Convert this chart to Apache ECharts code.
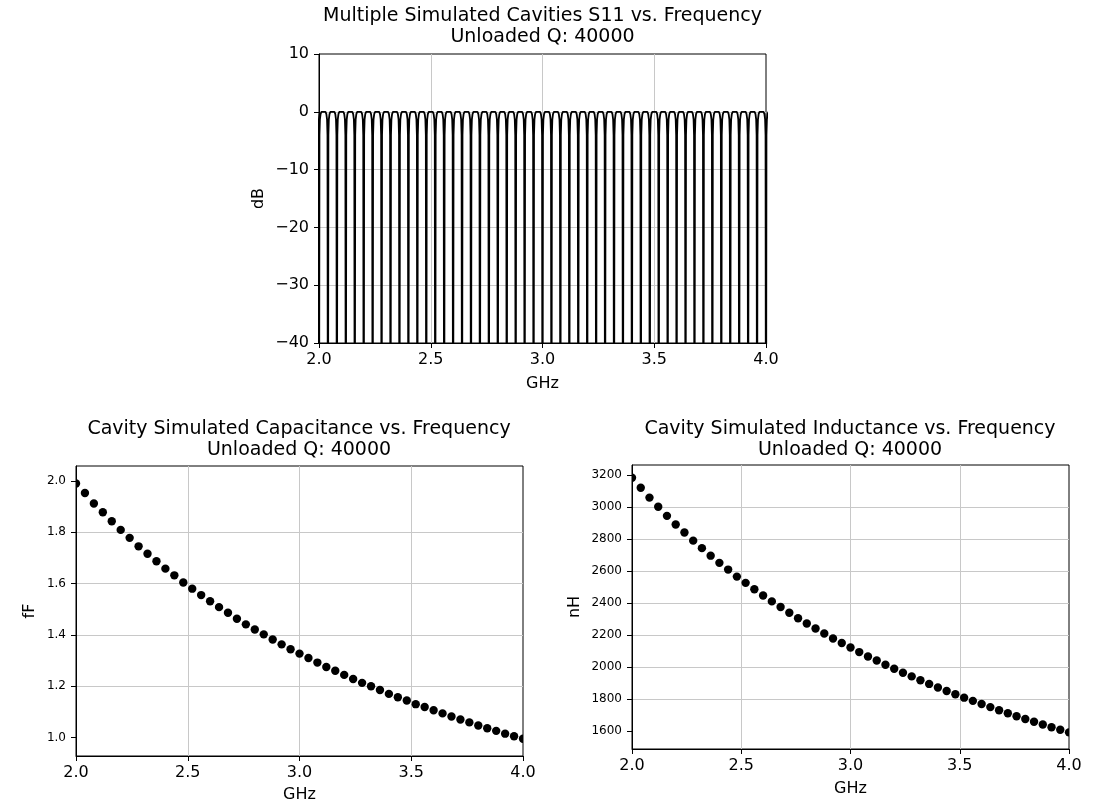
<!DOCTYPE html>
<html>
<head>
<meta charset="utf-8">
<script src="https://cdn.jsdelivr.net/npm/echarts@6/dist/echarts.min.js"></script>
<style>
html,body{margin:0;padding:0;background:#fff;}
#chart{width:1097px;height:807px;}
</style>
</head>
<body>
<div id="chart"></div>
<script>
// ---- data ----
const freqGHz = [2.00, 2.04, 2.08, 2.12, 2.16, 2.20, 2.24, 2.28, 2.32, 2.36,
                 2.40, 2.44, 2.48, 2.52, 2.56, 2.60, 2.64, 2.68, 2.72, 2.76,
                 2.80, 2.84, 2.88, 2.92, 2.96, 3.00, 3.04, 3.08, 3.12, 3.16,
                 3.20, 3.24, 3.28, 3.32, 3.36, 3.40, 3.44, 3.48, 3.52, 3.56,
                 3.60, 3.64, 3.68, 3.72, 3.76, 3.80, 3.84, 3.88, 3.92, 3.96, 4.00];
const capacitance_fF = [1.990, 1.953, 1.912, 1.878, 1.843, 1.809, 1.778, 1.745, 1.716, 1.687,
                        1.658, 1.632, 1.604, 1.580, 1.555, 1.531, 1.508, 1.486, 1.463, 1.441,
                        1.421, 1.402, 1.382, 1.363, 1.344, 1.327, 1.310, 1.292, 1.275, 1.260,
                        1.244, 1.228, 1.213, 1.200, 1.185, 1.170, 1.157, 1.144, 1.130, 1.119,
                        1.106, 1.094, 1.082, 1.070, 1.059, 1.047, 1.036, 1.026, 1.015, 1.005, 0.995];
const inductance_nH = [3182, 3120, 3058, 3001, 2944, 2890, 2840, 2789, 2742, 2695,
                       2650, 2608, 2564, 2525, 2485, 2446, 2409, 2374, 2338, 2304,
                       2271, 2240, 2208, 2177, 2149, 2121, 2092, 2064, 2039, 2013,
                       1988, 1963, 1940, 1916, 1893, 1871, 1849, 1828, 1807, 1787,
                       1767, 1748, 1728, 1710, 1691, 1674, 1656, 1639, 1622, 1606, 1590];
// shape of one S11 resonance dip (offset from resonance in GHz, level in dB)
const dipOffsetGHz = [-0.011, -0.007, -0.004, -0.002, 0, 0.002, 0.004, 0.007, 0.011];
const dipLevelDb   = [0, -0.4, -1.3, -4, -80, -4, -1.3, -0.4, 0];

const xTicks = [2.0, 2.5, 3.0, 3.5, 4.0];
const s11Ticks = [-40, -30, -20, -10, 0, 10];
const capTicks = [1.0, 1.2, 1.4, 1.6, 1.8, 2.0];
const indTicks = [1600, 1800, 2000, 2200, 2400, 2600, 2800, 3000, 3200];

const title1 = 'Multiple Simulated Cavities S11 vs. Frequency';
const title2 = 'Cavity Simulated Capacitance vs. Frequency';
const title3 = 'Cavity Simulated Inductance vs. Frequency';
const subTitle = 'Unloaded Q: 40000';

// ---- build ----
const s11Data = [];
freqGHz.forEach(f => {
  dipOffsetGHz.forEach((o, k) => s11Data.push([f + o, dipLevelDb[k]]));
});

const FONT = 'DejaVu Sans';
const gridLine = {show: true, showMinLine: false, showMaxLine: false, lineStyle: {color: '#c8c8c8', width: 1}};
const axLine = {show: true, onZero: false, lineStyle: {color: '#000', width: 1}};
const axTick = {show: true, inside: false, length: 5, lineStyle: {color: '#000', width: 1}};

function xAxis(gridIndex, nameGap) {
  return {
    type: 'value', gridIndex, min: 2, max: 4, interval: 0.5,
    name: 'GHz', nameLocation: 'middle', nameGap,
    nameTextStyle: {fontFamily: FONT, fontSize: 16, color: '#000'},
    axisLine: axLine, axisTick: axTick, splitLine: gridLine,
    axisLabel: {fontFamily: FONT, fontSize: 16, color: '#000', margin: 9,
                formatter: v => v.toFixed(1)}
  };
}

const chart = echarts.init(document.getElementById('chart'), null, {renderer: 'canvas'});
const titleStyle = {fontFamily: FONT, fontSize: 19, fontWeight: 'normal', color: '#000', lineHeight: 21};

chart.setOption({
  animation: false,
  backgroundColor: '#fff',
  title: [
    {text: title1 + '\n' + subTitle, left: 542.5, top: 6, textAlign: 'center', padding: 0, textStyle: titleStyle},
    {text: title2 + '\n' + subTitle, left: 299, top: 419, textAlign: 'center', padding: 0, textStyle: titleStyle},
    {text: title3 + '\n' + subTitle, left: 850, top: 419, textAlign: 'center', padding: 0, textStyle: titleStyle}
  ],
  grid: [
    {left: 319, top: 54, width: 447, height: 289, show: true, borderColor: '#000', borderWidth: 1, containLabel: false},
    {left: 76, top: 466, width: 447, height: 290, show: true, borderColor: '#000', borderWidth: 1, containLabel: false},
    {left: 632, top: 465, width: 437, height: 284, show: true, borderColor: '#000', borderWidth: 1, containLabel: false}
  ],
  xAxis: [xAxis(0, 33), xAxis(1, 31), xAxis(2, 32)],
  yAxis: [
    {
      type: 'value', gridIndex: 0, min: -40, max: 10, interval: 10,
      name: 'dB', nameLocation: 'middle', nameGap: 52,
      nameTextStyle: {fontFamily: FONT, fontSize: 16, color: '#000'},
      axisLine: axLine, axisTick: axTick, splitLine: gridLine,
      axisLabel: {fontFamily: FONT, fontSize: 16, color: '#000', margin: 10,
                  formatter: v => String(v).replace('-', '\u2212')}
    },
    {
      type: 'value', gridIndex: 1, min: 0.928, max: 2.058,
      name: 'fF', nameLocation: 'middle', nameGap: 38,
      nameTextStyle: {fontFamily: FONT, fontSize: 16, color: '#000'},
      axisLine: axLine,
      axisTick: Object.assign({}, axTick, {customValues: capTicks}),
      splitLine: gridLine,
      axisLabel: {fontFamily: FONT, fontSize: 12, color: '#000', margin: 10,
                  customValues: capTicks, formatter: v => v.toFixed(1)}
    },
    {
      type: 'value', gridIndex: 2, min: 1486, max: 3262,
      name: 'nH', nameLocation: 'middle', nameGap: 49,
      nameTextStyle: {fontFamily: FONT, fontSize: 16, color: '#000'},
      axisLine: axLine,
      axisTick: Object.assign({}, axTick, {customValues: indTicks}),
      splitLine: gridLine,
      axisLabel: {fontFamily: FONT, fontSize: 12, color: '#000', margin: 10,
                  customValues: indTicks, formatter: v => String(v)}
    }
  ],
  series: [
    {
      type: 'line', xAxisIndex: 0, yAxisIndex: 0, data: s11Data,
      showSymbol: false, symbol: 'none', clip: true, sampling: null,
      lineStyle: {color: '#000', width: 1.8}, z: 3
    },
    {
      type: 'custom', xAxisIndex: 1, yAxisIndex: 1, clip: true,
      data: freqGHz.map((f, i) => [f, capacitance_fF[i]]),
      renderItem: (params, api) => {
        const p = api.coord([api.value(0), api.value(1)]);
        return {type: 'circle', shape: {cx: p[0], cy: p[1], r: 4.2}, style: {fill: '#000'}};
      }, z: 3
    },
    {
      type: 'custom', xAxisIndex: 2, yAxisIndex: 2, clip: true,
      data: freqGHz.map((f, i) => [f, inductance_nH[i]]),
      renderItem: (params, api) => {
        const p = api.coord([api.value(0), api.value(1)]);
        return {type: 'circle', shape: {cx: p[0], cy: p[1], r: 4.2}, style: {fill: '#000'}};
      }, z: 3
    }
  ]
});
</script>
</body>
</html>
